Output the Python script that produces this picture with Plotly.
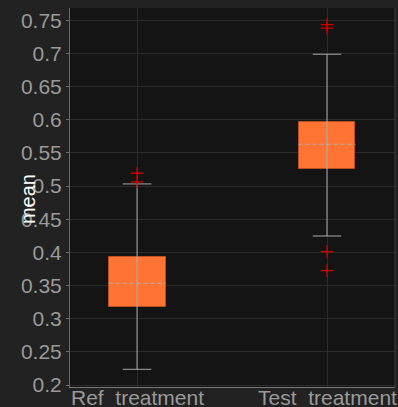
import plotly.graph_objects as go

# ---- data ----
categories = ["Ref\u00a0 treatment", "Test\u00a0 treatment"]
positions = [1, 2]
q1 = [0.3177, 0.5253]
median = [0.3534, 0.5630]
q3 = [0.3926, 0.5971]
lower_whisker = [0.2237, 0.4247]
upper_whisker = [0.5032, 0.6988]
outlier_group = [1, 1, 2, 2, 2, 2]
outlier_values = [0.5062, 0.5193, 0.7382, 0.7434, 0.4011, 0.3724]

box_half = 0.15
cap_half = 0.075

BOX_FILL = "#ff7433"
BOX_EDGE = "#b8501f"
WHISK = "#a8a8a8"

fig = go.Figure()

# whisker vertical lines
for p, lo, hi in zip(positions, lower_whisker, upper_whisker):
    fig.add_trace(go.Scatter(x=[p, p], y=[lo, hi], mode="lines",
                             line=dict(color=WHISK, width=1), hoverinfo="skip",
                             showlegend=False))
# caps
for p, lo, hi in zip(positions, lower_whisker, upper_whisker):
    for v in (lo, hi):
        fig.add_trace(go.Scatter(x=[p - cap_half, p + cap_half], y=[v, v], mode="lines",
                                 line=dict(color=WHISK, width=1), hoverinfo="skip",
                                 showlegend=False))

# boxes
fig.add_trace(go.Bar(x=positions, base=q1, y=[b - a for a, b in zip(q1, q3)],
                     width=2 * box_half,
                     marker=dict(color=BOX_FILL, line=dict(color=BOX_EDGE, width=1)),
                     showlegend=False, hoverinfo="skip"))

# whisker line visible through the box
for p, a, b in zip(positions, q1, q3):
    fig.add_trace(go.Scatter(x=[p, p], y=[a, b], mode="lines",
                             line=dict(color="rgba(170,170,170,0.45)", width=1),
                             hoverinfo="skip", showlegend=False))

# medians (dashed)
for p, m in zip(positions, median):
    fig.add_trace(go.Scatter(x=[p - box_half, p + box_half], y=[m, m], mode="lines",
                             line=dict(color="#b0b0b0", width=1, dash="4px,3px"),
                             hoverinfo="skip", showlegend=False))

# outliers
fig.add_trace(go.Scatter(x=outlier_group, y=outlier_values, mode="markers",
                         marker=dict(symbol="cross-thin", size=9,
                                     line=dict(color="#d00000", width=1.3)),
                         hoverinfo="skip", showlegend=False))

annotations = [dict(
    text="mean", textangle=-90, showarrow=False,
    xref="paper", yref="paper", x=-0.129, y=0.496,
    xanchor="center", yanchor="middle",
    font=dict(size=20, color="#ffffff"),
)]
for p, label in zip(positions, categories):
    annotations.append(dict(
        text=label, showarrow=False, xref="x", yref="paper", x=p, y=0,
        xanchor="center", yanchor="top", yshift=3,
        font=dict(size=21, color="#9a9a9a"),
    ))

fig.update_layout(
    width=398, height=407,
    margin=dict(l=70, r=3, t=8, b=20, autoexpand=False),
    paper_bgcolor="#222222",
    plot_bgcolor="#141414",
    font=dict(family="Liberation Sans, Arial, sans-serif", color="#9a9a9a", size=21),
    bargap=0,
    xaxis=dict(
        range=[0.647, 2.358],
        tickmode="array", tickvals=positions, ticktext=categories,
        showticklabels=False,
        showgrid=True, gridcolor="#2c2c2c", gridwidth=1,
        zeroline=False, automargin=False,
        showline=True, linecolor="#777777", linewidth=1,
        ticks="",
    ),
    yaxis=dict(
        range=[0.197, 0.7685],
        dtick=0.05, tick0=0.2,
        showgrid=True, gridcolor="#2c2c2c", gridwidth=1,
        zeroline=False, automargin=False,
        showline=True, linecolor="#6a6a6a", linewidth=1,
        ticks="outside", ticklen=3, tickcolor="#6a6a6a",
        tickfont=dict(size=21, color="#9a9a9a"),
    ),
    annotations=annotations,
    shapes=[dict(type="line", xref="paper", yref="paper", x0=1, x1=1, y0=0, y1=1,
                 line=dict(color="#3a3a3a", width=1))],
)

fig.write_html("out.html")
